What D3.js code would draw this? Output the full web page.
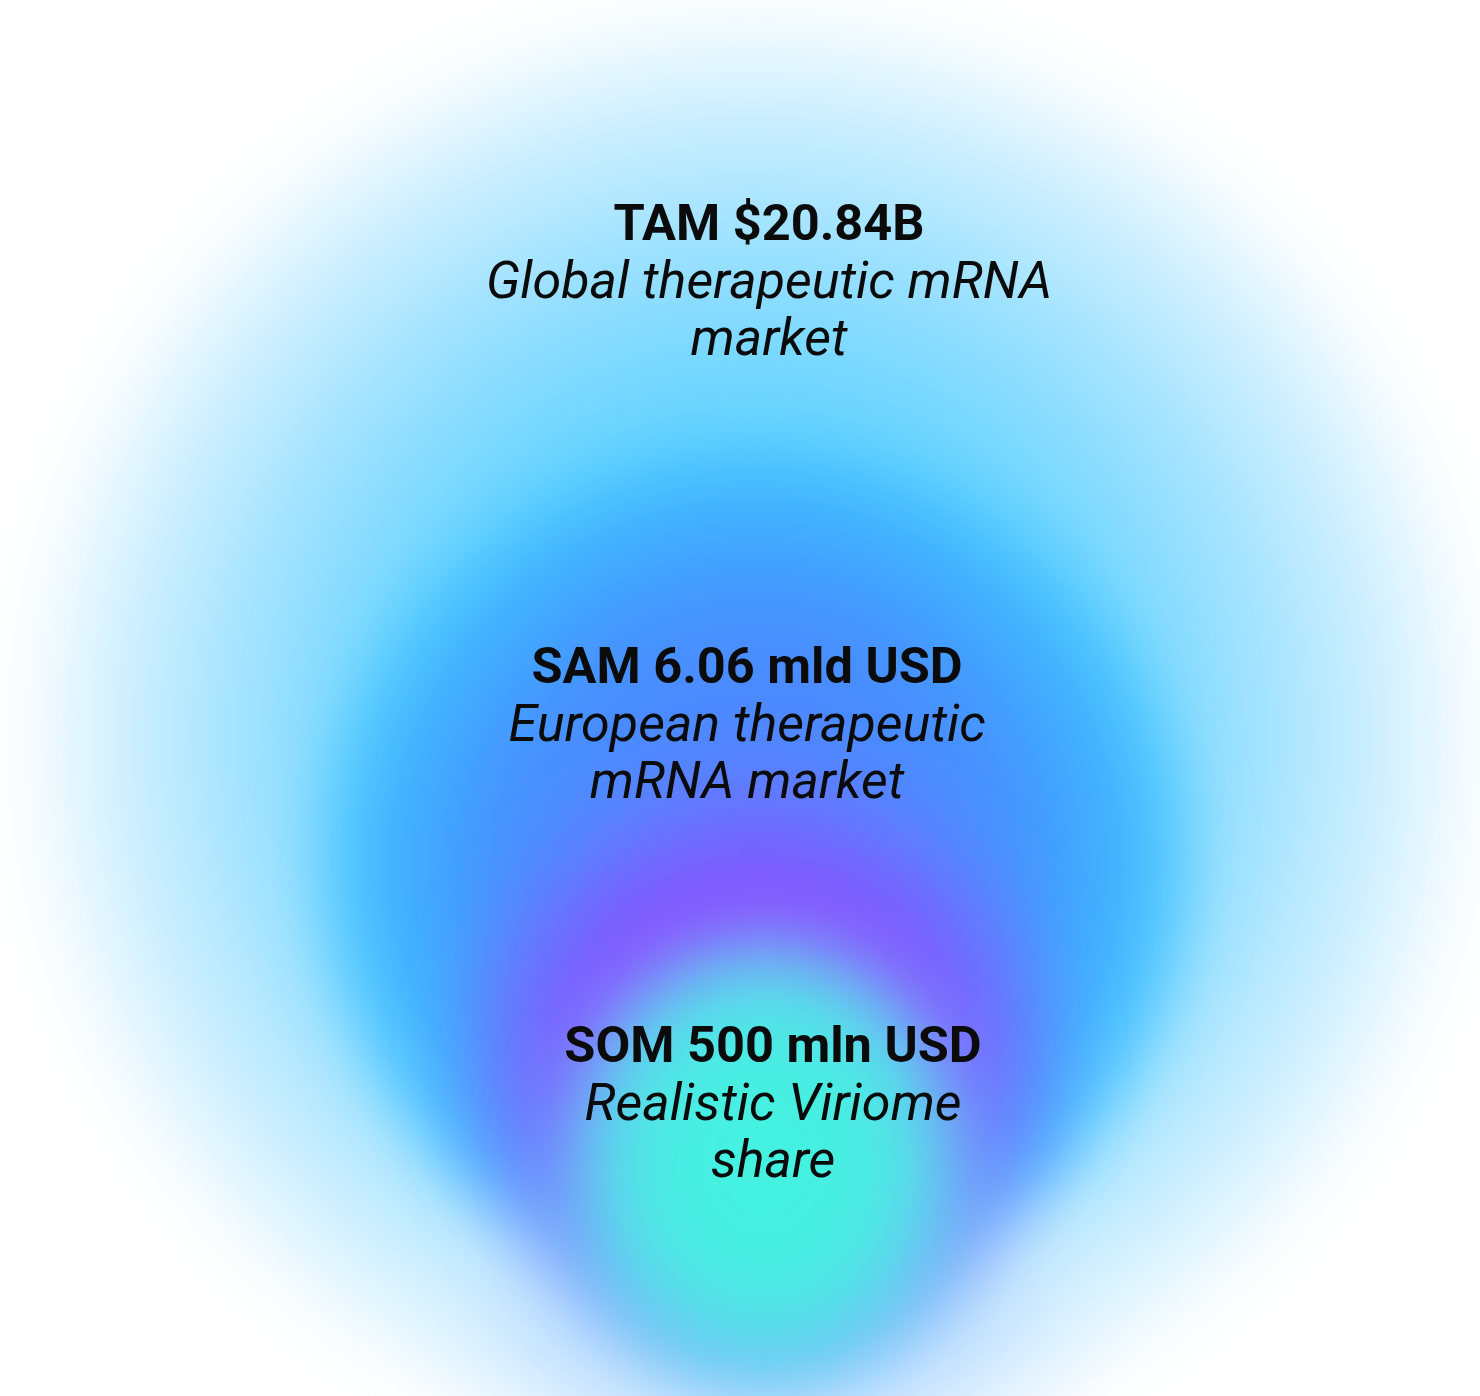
<!DOCTYPE html>
<html>
<head>
<meta charset="utf-8">
<script src="https://cdn.jsdelivr.net/npm/d3@7"></script>
<style>
  html, body { margin: 0; padding: 0; background: #ffffff; }
  svg { display: block; }
</style>
</head>
<body>
<div id="chart"></div>
<script>
// ---- data ----
const segments = ["TAM", "SAM", "SOM"];
const values = ["$20.84B", "6.06 mld USD", "500 mln USD"];
const descriptions = [
  ["Global therapeutic mRNA", "market"],
  ["European therapeutic", "mRNA market"],
  ["Realistic Viriome", "share"]
];

// ---- layout ----
const W = 1480, H = 1396;
const svg = d3.select("#chart").append("svg")
  .attr("width", W).attr("height", H)
  .attr("viewBox", `0 0 ${W} ${H}`);

svg.append("rect").attr("width", W).attr("height", H).attr("fill", "#ffffff");

const defs = svg.append("defs");

// circle geometry per segment (layout only)
const cx = d3.scaleOrdinal().domain(segments).range([752, 755, 765]);
const cy = d3.scaleOrdinal().domain(segments).range([735, 865, 1165]);
const rr = d3.scaleOrdinal().domain(segments).range([720, 445, 230]);
const blur = d3.scaleOrdinal().domain(segments).range([34, 30, 32]);

// gradients
const gradStops = {
  TAM: [[0, "#58cdff", 1], [0.5, "#70d6ff", 1], [0.72, "#a4e3ff", 1], [0.88, "#d0f0ff", 1], [1, "#f4fbff", 1]],
  SAM: [[0, "#5a7cff", 1], [0.55, "#4690ff", 1], [0.8, "#40b0ff", 1], [0.93, "#4cc8ff", 1], [1, "#5fd2ff", 0]],
  SOM: [[0, "#42f4e0", 1], [0.45, "#48eee2", 1], [0.75, "#5fd4ee", 1], [1, "#80c0ff", 0]]
};

segments.forEach(s => {
  const g = defs.append("radialGradient").attr("id", "g-" + s)
    .attr("cx", "50%").attr("cy", "50%").attr("r", "50%");
  gradStops[s].forEach(([o, c, a]) => {
    g.append("stop").attr("offset", o).attr("stop-color", c).attr("stop-opacity", a);
  });
  const f = defs.append("filter").attr("id", "f-" + s)
    .attr("x", "-30%").attr("y", "-30%").attr("width", "160%").attr("height", "160%");
  f.append("feGaussianBlur").attr("stdDeviation", blur(s));
});

// purple halo around SOM, inside SAM
const halo = defs.append("radialGradient").attr("id", "g-halo")
  .attr("cx", "50%").attr("cy", "50%").attr("r", "50%");
[[0, "#8a4cff", 1], [0.5, "#8a4cff", 1], [0.72, "#7a62ff", 0.75], [1, "#6a80ff", 0]].forEach(([o, c, a]) => {
  halo.append("stop").attr("offset", o).attr("stop-color", c).attr("stop-opacity", a);
});
defs.append("filter").attr("id", "f-halo")
  .attr("x", "-30%").attr("y", "-30%").attr("width", "160%").attr("height", "160%")
  .append("feGaussianBlur").attr("stdDeviation", 28);

// soft light wash below SOM
const fade = defs.append("radialGradient").attr("id", "g-fade")
  .attr("cx", "50%").attr("cy", "50%").attr("r", "50%");
[[0, "#a8cfff", 0.85], [0.6, "#c0dcff", 0.6], [1, "#e0f0ff", 0]].forEach(([o, c, a]) => {
  fade.append("stop").attr("offset", o).attr("stop-color", c).attr("stop-opacity", a);
});

const gCircles = svg.append("g");

// TAM, SAM
gCircles.selectAll("circle.seg")
  .data(["TAM", "SAM"])
  .join("circle")
  .attr("class", "seg")
  .attr("cx", d => cx(d)).attr("cy", d => cy(d)).attr("r", d => rr(d))
  .attr("fill", d => `url(#g-${d})`)
  .attr("filter", d => `url(#f-${d})`);

// light lavender wash at bottom of SAM
gCircles.append("ellipse")
  .attr("cx", cx("SOM")).attr("cy", cy("SOM") + 150).attr("rx", rr("SOM") * 1.6).attr("ry", rr("SOM") * 0.85)
  .attr("fill", "url(#g-fade)")
  .attr("filter", "url(#f-SAM)");

// halo
gCircles.append("ellipse")
  .attr("cx", cx("SOM") - 5).attr("cy", cy("SOM") - 100).attr("rx", rr("SOM") * 1.45).attr("ry", rr("SOM") * 1.4)
  .attr("fill", "url(#g-halo)")
  .attr("filter", "url(#f-halo)");

// SOM
gCircles.append("ellipse")
  .attr("cx", cx("SOM")).attr("cy", cy("SOM")).attr("rx", rr("SOM")).attr("ry", rr("SOM") * 1.12)
  .attr("fill", "url(#g-SOM)")
  .attr("filter", "url(#f-SOM)");

// ---- labels ----
const labelX = d3.scaleOrdinal().domain(segments).range([769, 747, 773]);
const labelY = d3.scaleOrdinal().domain(segments).range([240, 683, 1062]);
const lineH = 57.5;

const labels = svg.append("g").attr("font-family", "Roboto, 'Noto Sans', sans-serif")
  .attr("fill", "#0b0b0b").attr("text-anchor", "middle");

segments.forEach((s, i) => {
  const t = labels.append("text")
    .attr("x", labelX(s)).attr("y", labelY(s));
  t.append("tspan").attr("x", labelX(s)).attr("font-weight", 700).attr("font-size", 50.5)
    .text(`${s} ${values[i]}`);
  descriptions[i].forEach((line, j) => {
    t.append("tspan").attr("x", labelX(s)).attr("dy", lineH)
      .attr("font-style", "italic").attr("font-weight", 400).attr("font-size", 52)
      .text(line);
  });
});
</script>
</body>
</html>
